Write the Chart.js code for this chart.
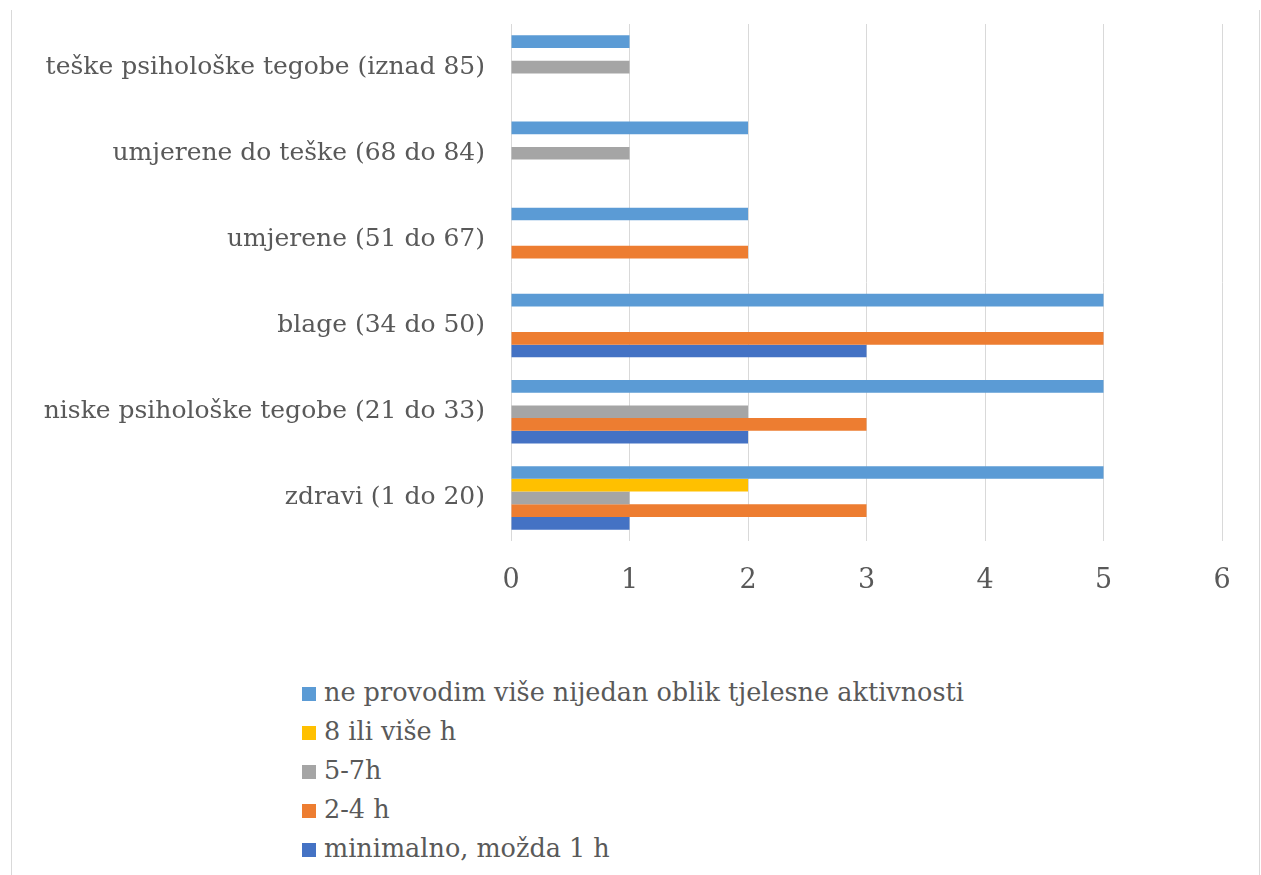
<!DOCTYPE html>
<html>
<head>
<meta charset="utf-8">
<script src="https://cdn.jsdelivr.net/npm/chart.js@4.4.1/dist/chart.umd.min.js"></script>
<style>
  body { margin: 0; background: #fff; }
  #wrap { position: relative; width: 1261px; height: 875px; }
  #frame { position: absolute; left: 11px; top: 10px; width: 1247px; height: 865px;
           border-left: 1px solid #d9d9d9; border-right: 1px solid #d9d9d9; }
  #c { position: absolute; left: 0; top: 0; }
  #legenda { position: absolute; left: 302px; top: 673px; font-family: "DejaVu Serif", serif;
             font-size: 25.5px; color: #595959; }
  #legenda div { height: 39px; line-height: 39px; white-space: nowrap; }
  #legenda span { display: inline-block; width: 14px; height: 14px; margin-right: 8px; vertical-align: 0px; }
</style>
</head>
<body>
<div id="wrap">
  <div id="frame"></div>
  <canvas id="c" width="1261" height="620"></canvas>
  <div id="legenda"></div>
</div>
<script>
const kategorije = [
  "teške psihološke tegobe (iznad 85)",
  "umjerene do teške (68 do 84)",
  "umjerene (51 do 67)",
  "blage (34 do 50)",
  "niske psihološke tegobe (21 do 33)",
  "zdravi (1 do 20)"
];
// vrijednosti po kategoriji, odozgo prema dolje
const neProvodim = [1, 2, 2, 5, 5, 5];
const osamIliVise = [0, 0, 0, 0, 0, 2];
const petDoSedam = [1, 1, 0, 0, 2, 1];
const dvaDoCetiri = [0, 0, 2, 5, 3, 3];
const minimalno = [0, 0, 0, 3, 2, 1];
const xTicks = [0, 1, 2, 3, 4, 5, 6];

const serije = [
  { label: "ne provodim više nijedan oblik tjelesne aktivnosti", data: neProvodim, boja: "#5B9BD5" },
  { label: "8 ili više h", data: osamIliVise, boja: "#FFC000" },
  { label: "5-7h", data: petDoSedam, boja: "#A5A5A5" },
  { label: "2-4 h", data: dvaDoCetiri, boja: "#ED7D31" },
  { label: "minimalno, možda 1 h", data: minimalno, boja: "#4472C4" }
];

const font = '"DejaVu Serif", serif';

new Chart(document.getElementById('c'), {
  type: 'bar',
  data: {
    labels: kategorije,
    datasets: serije.map(s => ({
      label: s.label,
      data: s.data,
      backgroundColor: s.boja,
      borderWidth: 0,
      barPercentage: 1,
      categoryPercentage: 0.737
    }))
  },
  options: {
    indexAxis: 'y',
    responsive: false,
    animation: false,
    layout: { padding: { top: 24, right: 39, left: 0, bottom: 0 } },
    plugins: { legend: { display: false }, tooltip: { enabled: false } },
    scales: {
      x: {
        min: 0, max: 6,
        afterBuildTicks: (scale) => { scale.ticks = xTicks.map(v => ({ value: v })); },
        afterFit: (scale) => { scale.height = 79; scale.paddingLeft = 0; scale.paddingRight = 0; },
        grid: { color: '#d9d9d9', drawTicks: false, lineWidth: 1 },
        border: { display: false },
        ticks: { padding: 24, color: '#595959', font: { family: font, size: 27 } }
      },
      y: {
        afterFit: (scale) => { scale.width = 511; scale.paddingTop = 0; scale.paddingBottom = 0; },
        grid: { display: false },
        border: { display: false },
        ticks: { padding: 18, color: '#595959', font: { family: font, size: 25 } }
      }
    }
  }
});

const legenda = document.getElementById('legenda');
serije.forEach(s => {
  const red = document.createElement('div');
  const kv = document.createElement('span');
  kv.style.background = s.boja;
  red.appendChild(kv);
  red.appendChild(document.createTextNode(s.label));
  legenda.appendChild(red);
});
</script>
</body>
</html>
